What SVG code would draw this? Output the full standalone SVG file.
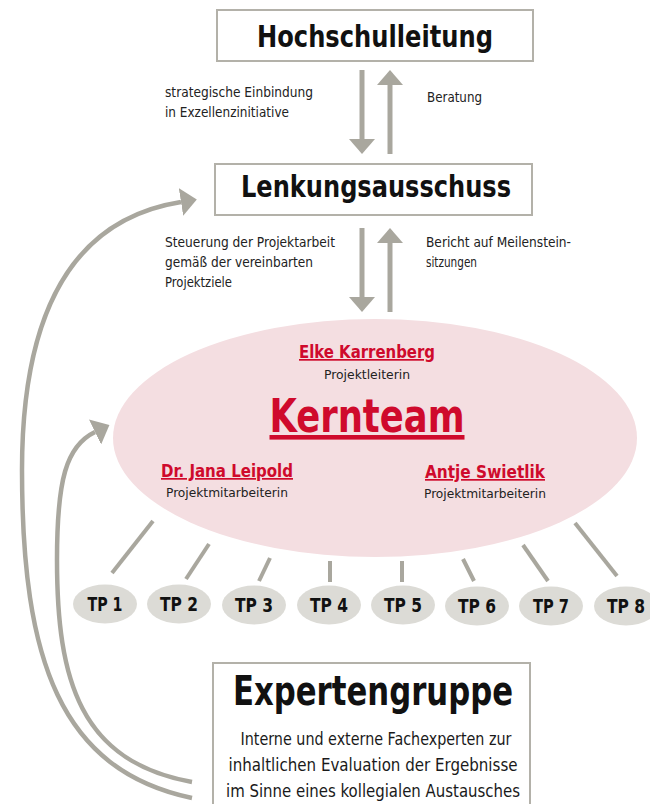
<svg xmlns="http://www.w3.org/2000/svg" width="650" height="804" viewBox="0 0 650 804">
<style>
text{font-family:"DejaVu Sans Condensed","Liberation Sans Narrow","Liberation Sans",Arial,sans-serif}
.box{fill:#ffffff;stroke:#b3b1a9;stroke-width:2}
.title{font-weight:bold;font-size:30px;fill:#111111;text-anchor:middle}
.lbl{font-size:14px;fill:#222222}
.conn{stroke:#a9a79e;stroke-width:5;fill:none}
.curve{stroke:#a9a79e;stroke-width:4.5;fill:none}
.tpl{stroke:#a9a79e;stroke-width:4;fill:none}
.name{font-weight:bold;font-size:17px;fill:#cf0a2c;text-anchor:middle;text-decoration:underline}
.role{font-size:13px;fill:#222222;text-anchor:middle}
.tp{fill:#dcdbd6}
.tpt{font-weight:bold;font-size:19px;fill:#111111;text-anchor:middle}
.sub{font-size:17.5px;fill:#1a1a1a;text-anchor:middle}
</style>
<defs>
<marker id="ahs" markerUnits="userSpaceOnUse" markerWidth="15" markerHeight="26" viewBox="0 -13 15 26" refX="0" refY="0" orient="auto"><path d="M0,-13 L15,0 L0,13 z" fill="#a9a79e"/></marker>
<marker id="ahc" markerUnits="userSpaceOnUse" markerWidth="16" markerHeight="28" viewBox="0 -14 16 28" refX="0" refY="0" orient="auto"><path d="M0,-14 L16,0 L0,14 z" fill="#a9a79e"/></marker>
</defs>

<g id="connectors">
<line class="conn" x1="362" y1="70" x2="362" y2="139" marker-end="url(#ahs)"/>
<line class="conn" x1="390" y1="154" x2="390" y2="85" marker-end="url(#ahs)"/>
<line class="conn" x1="362" y1="228" x2="362" y2="297" marker-end="url(#ahs)"/>
<line class="conn" x1="390" y1="312" x2="390" y2="243" marker-end="url(#ahs)"/>
<path class="curve" d="M192,798 C60,770 22,660 22,470 C22,300 80,218 181,202" marker-end="url(#ahc)"/>
<path class="curve" d="M192,782 C80,762 57,680 57,560 C57,480 66,446 95,432" marker-end="url(#ahc)"/>
<line class="tpl" x1="153" y1="521" x2="112" y2="573"/>
<line class="tpl" x1="209" y1="544" x2="186" y2="579"/>
<line class="tpl" x1="270" y1="558" x2="259" y2="581"/>
<line class="tpl" x1="330" y1="561" x2="330" y2="582"/>
<line class="tpl" x1="402" y1="561" x2="402" y2="582"/>
<line class="tpl" x1="463" y1="559" x2="474" y2="581"/>
<line class="tpl" x1="523" y1="545" x2="548" y2="581"/>
<line class="tpl" x1="575" y1="523" x2="617" y2="576"/>
</g>

<g id="labels">
<text class="lbl" x="165" y="97" textLength="148" lengthAdjust="spacingAndGlyphs">strategische Einbindung</text>
<text class="lbl" x="165" y="117" textLength="124" lengthAdjust="spacingAndGlyphs">in Exzellenzinitiative</text>
<text class="lbl" x="427" y="102" textLength="55" lengthAdjust="spacingAndGlyphs">Beratung</text>
<text class="lbl" x="165" y="247" textLength="170" lengthAdjust="spacingAndGlyphs">Steuerung der Projektarbeit</text>
<text class="lbl" x="165" y="267" textLength="148" lengthAdjust="spacingAndGlyphs">gemäß der vereinbarten</text>
<text class="lbl" x="165" y="287" textLength="67" lengthAdjust="spacingAndGlyphs">Projektziele</text>
<text class="lbl" x="426" y="247" textLength="145" lengthAdjust="spacingAndGlyphs">Bericht auf Meilenstein-</text>
<text class="lbl" x="426" y="267" textLength="51" lengthAdjust="spacingAndGlyphs">sitzungen</text>
</g>

<g id="hochschulleitung">
<rect class="box" x="217" y="10" width="316" height="51"/>
<text class="title" x="375" y="47" textLength="236" lengthAdjust="spacingAndGlyphs">Hochschulleitung</text>
</g>

<g id="lenkungsausschuss">
<rect class="box" x="215" y="164" width="317" height="51"/>
<text class="title" x="376" y="197" textLength="270" lengthAdjust="spacingAndGlyphs">Lenkungsausschuss</text>
</g>

<g id="kernteam">
<ellipse cx="375" cy="438" rx="262" ry="119" fill="#f4dee1"/>
<text class="name" x="367" y="358" textLength="136" lengthAdjust="spacingAndGlyphs">Elke Karrenberg</text>
<text class="role" x="367" y="379" textLength="86" lengthAdjust="spacingAndGlyphs">Projektleiterin</text>
<text class="name" x="367" y="432" style="font-size:46px" textLength="195" lengthAdjust="spacingAndGlyphs">Kernteam</text>
<text class="name" x="227" y="477" textLength="132" lengthAdjust="spacingAndGlyphs">Dr. Jana Leipold</text>
<text class="role" x="227" y="497" textLength="122" lengthAdjust="spacingAndGlyphs">Projektmitarbeiterin</text>
<text class="name" x="485" y="478" textLength="120" lengthAdjust="spacingAndGlyphs">Antje Swietlik</text>
<text class="role" x="485" y="498" textLength="122" lengthAdjust="spacingAndGlyphs">Projektmitarbeiterin</text>
</g>

<g id="tp1"><ellipse class="tp" cx="105" cy="604" rx="32" ry="19.5"/><text class="tpt" x="105" y="611" textLength="35" lengthAdjust="spacingAndGlyphs">TP 1</text></g>
<g id="tp2"><ellipse class="tp" cx="179" cy="604" rx="32" ry="19.5"/><text class="tpt" x="179" y="611" textLength="38" lengthAdjust="spacingAndGlyphs">TP 2</text></g>
<g id="tp3"><ellipse class="tp" cx="254" cy="605" rx="32" ry="19.5"/><text class="tpt" x="254" y="612" textLength="38" lengthAdjust="spacingAndGlyphs">TP 3</text></g>
<g id="tp4"><ellipse class="tp" cx="329" cy="605" rx="32" ry="19.5"/><text class="tpt" x="329" y="612" textLength="38" lengthAdjust="spacingAndGlyphs">TP 4</text></g>
<g id="tp5"><ellipse class="tp" cx="403" cy="605" rx="32" ry="19.5"/><text class="tpt" x="403" y="612" textLength="38" lengthAdjust="spacingAndGlyphs">TP 5</text></g>
<g id="tp6"><ellipse class="tp" cx="477" cy="606" rx="32" ry="19.5"/><text class="tpt" x="477" y="613" textLength="38" lengthAdjust="spacingAndGlyphs">TP 6</text></g>
<g id="tp7"><ellipse class="tp" cx="551" cy="606" rx="32" ry="19.5"/><text class="tpt" x="551" y="613" textLength="36" lengthAdjust="spacingAndGlyphs">TP 7</text></g>
<g id="tp8"><ellipse class="tp" cx="626" cy="606" rx="32" ry="19.5"/><text class="tpt" x="626" y="613" textLength="38" lengthAdjust="spacingAndGlyphs">TP 8</text></g>

<g id="expertengruppe">
<rect class="box" x="213" y="663" width="317" height="160"/>
<text class="title" x="373" y="705" style="font-size:40px" textLength="280" lengthAdjust="spacingAndGlyphs">Expertengruppe</text>
<text class="sub" x="376" y="745" textLength="271" lengthAdjust="spacingAndGlyphs">Interne und externe Fachexperten zur</text>
<text class="sub" x="373" y="771" textLength="289" lengthAdjust="spacingAndGlyphs">inhaltlichen Evaluation der Ergebnisse</text>
<text class="sub" x="373" y="797" textLength="294" lengthAdjust="spacingAndGlyphs">im Sinne eines kollegialen Austausches</text>
</g>
</svg>
